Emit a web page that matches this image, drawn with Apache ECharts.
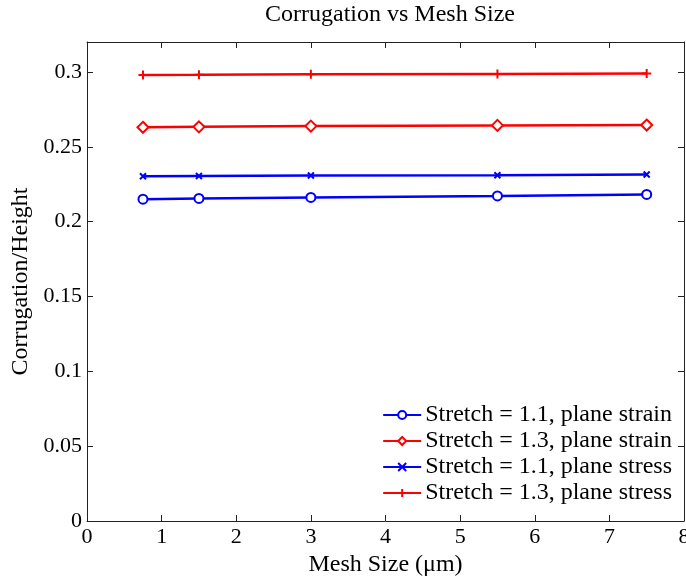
<!DOCTYPE html>
<html><head><meta charset="utf-8">
<script src="https://cdn.jsdelivr.net/npm/echarts@6/dist/echarts.min.js"></script>
<style>html,body{margin:0;padding:0;background:#fff}#c{width:686px;height:581px}</style>
</head><body><div id="c"></div>
<script>
const meshSize = [0.75, 1.5, 3, 5.5, 7.5];
const s11Strain = [0.2150, 0.2155, 0.2162, 0.2172, 0.2182];
const s13Strain = [0.2630, 0.2633, 0.2638, 0.2643, 0.2645];
const s11Stress = [0.2303, 0.2305, 0.2308, 0.2310, 0.2315];
const s13Stress = [0.2980, 0.2981, 0.2984, 0.2987, 0.2990];
const names = ['Stretch = 1.1, plane strain','Stretch = 1.3, plane strain','Stretch = 1.1, plane stress','Stretch = 1.3, plane stress'];
const xTicks = [0,1,2,3,4,5,6,7,8];
const yTicks = [0,0.05,0.1,0.15,0.2,0.25,0.3];

const font = 'Liberation Serif';
const blue = '#0000ff', red = '#ff0000';
const xPath = 'path://M0,0L10,10M10,0L0,10';
const plusPath = 'path://M5,0L5,10M0,5L10,5';
function pts(a){ return meshSize.map((x,i)=>[x,a[i]]); }
function ser(name, data, color, symbol, size){
  return {name, type:'line', data:pts(data), xAxisIndex:0, yAxisIndex:0,
    symbol, symbolSize:size, showAllSymbol:true,
    lineStyle:{color, width:2.5},
    itemStyle:{color, borderColor:color, borderWidth:2},
    emphasis:{disabled:true}, animation:false};
}
const chart = echarts.init(document.getElementById('c'));
function axisCommon(){ return {
  axisLine:{show:true, onZero:false, lineStyle:{color:'#222', width:1}},
  axisTick:{show:true, inside:true, length:6, lineStyle:{color:'#222'}},
  splitLine:{show:false}
};}
chart.setOption({
  animation:false,
  title:{text:'Corrugation vs Mesh Size', left:385, top:-2, textAlign:'center',
    textStyle:{fontFamily:font, fontSize:24, fontWeight:'normal', color:'#000'}},
  grid:{left:87, right:2, top:42, bottom:60, containLabel:false, outerBoundsMode:'none'},
  legend:{
    data:names, orient:'vertical', right:12, bottom:75, itemWidth:38, itemHeight:10, itemGap:2,
    backgroundColor:'#fff', borderWidth:0, padding:[1,2,1,4],
    textStyle:{fontFamily:font, fontSize:24, color:'#000', padding:[0,0,0,-1]}
  },
  xAxis:[
    Object.assign({type:'value', min:0, max:8, interval:1, position:'bottom',
      name:'Mesh Size (μm)', nameLocation:'middle', nameGap:32,
      nameTextStyle:{fontFamily:font, fontSize:24, color:'#000'},
      axisLabel:{fontFamily:font, fontSize:22, color:'#000', margin:5}}, axisCommon()),
    Object.assign({type:'value', min:0, max:8, interval:1, position:'top', axisLabel:{show:false}}, axisCommon())
  ],
  yAxis:[
    Object.assign({type:'value', min:0, max:0.32, interval:0.05, position:'left',
      name:'Corrugation/Height', nameLocation:'middle', nameGap:52,
      nameTextStyle:{fontFamily:font, fontSize:24, color:'#000'},
      axisLabel:{fontFamily:font, fontSize:22, color:'#000', margin:5,
        formatter:v=> (yTicks.some(t=>Math.abs(t-v)<1e-9)? String(+v.toFixed(2)) : '')}}, axisCommon()),
    Object.assign({type:'value', min:0, max:0.32, interval:0.05, position:'right', axisLabel:{show:false}}, axisCommon())
  ],
  series:[
    ser(names[0], s11Strain, blue, 'emptyCircle', 9),
    ser(names[1], s13Strain, red, 'emptyDiamond', 11),
    ser(names[2], s11Stress, blue, xPath, 6),
    ser(names[3], s13Stress, red, plusPath, 9)
  ]
});
</script></body></html>
